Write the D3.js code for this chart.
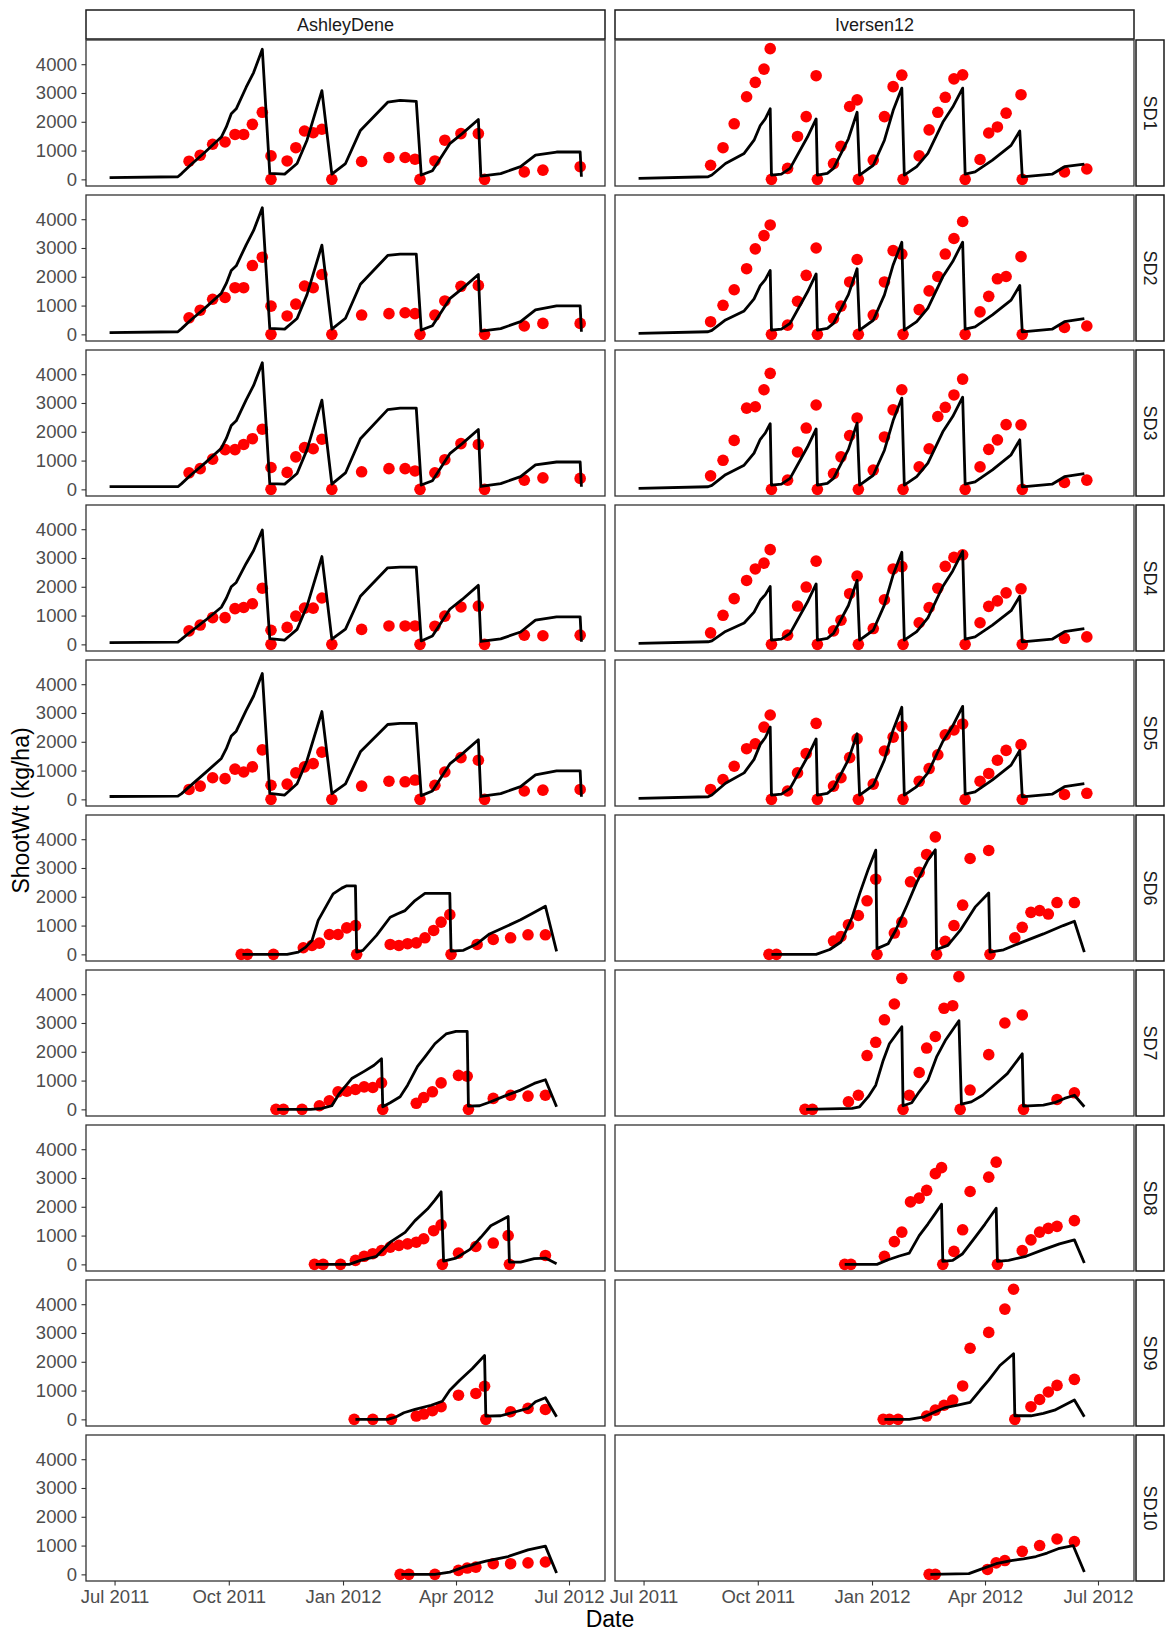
<!DOCTYPE html>
<html>
<head>
<meta charset="utf-8">
<script src="https://cdn.jsdelivr.net/npm/d3@7"></script>
<style>
  body { margin: 0; background: #fff; }
  text { font-family: "Liberation Sans", Arial, Helvetica, sans-serif; }
</style>
</head>
<body>
<svg id="chart" width="1166" height="1631"></svg>
<script>
// ---------- facets and axes ----------
const sites = ["AshleyDene", "Iversen12"];
const sowings = ["SD1", "SD2", "SD3", "SD4", "SD5", "SD6", "SD7", "SD8", "SD9", "SD10"];
const xTickDates = ["2011-07-01", "2011-10-01", "2012-01-01", "2012-04-01", "2012-07-01"];
const yTickValues = [0, 1000, 2000, 3000, 4000];

// ---------- AshleyDene, SD1-SD5 (shared dates) ----------
const adSampleDates = ["2011-08-30","2011-09-08","2011-09-18","2011-09-28","2011-10-06","2011-10-13","2011-10-20","2011-10-28","2011-11-04","2011-11-04","2011-11-17","2011-11-24","2011-12-01","2011-12-08","2011-12-15","2011-12-23","2012-01-16","2012-02-07","2012-02-20","2012-02-28","2012-03-03","2012-03-15","2012-03-23","2012-04-05","2012-04-19","2012-04-24","2012-05-26","2012-06-10","2012-07-10"];
const adObsSD1 = [630,840,1220,1300,1560,1560,1910,2330,815,0,640,1100,1680,1620,1740,0,620,760,760,700,0,640,1360,1590,1590,0,260,320,440];
const adObsSD2 = [575,840,1220,1280,1620,1620,2390,2680,980,0,640,1050,1680,1620,2080,0,670,720,750,720,0,670,1160,1670,1700,0,290,380,380];
const adObsSD3 = [575,720,1050,1380,1380,1560,1760,2090,760,0,590,1130,1450,1410,1740,0,610,720,720,640,0,575,1030,1590,1560,0,320,400,380];
const adObsSD4 = [470,670,930,930,1240,1280,1410,1950,490,0,590,980,1260,1260,1610,0,520,640,640,640,0,630,980,1300,1330,0,320,300,320];
const adObsSD5 = [345,460,750,720,1050,950,1130,1720,490,0,530,920,1130,1240,1640,0,460,630,610,670,0,490,950,1450,1360,0,290,320,345];

const adSimDates = ["2011-06-27","2011-08-21","2011-08-24","2011-08-31","2011-09-12","2011-09-25","2011-09-29","2011-10-03","2011-10-07","2011-10-15","2011-10-21","2011-10-28","2011-11-03","2011-11-15","2011-11-25","2011-12-03","2011-12-15","2011-12-23","2012-01-03","2012-01-15","2012-02-06","2012-02-16","2012-02-29","2012-03-04","2012-03-13","2012-03-27","2012-04-06","2012-04-19","2012-04-21","2012-05-07","2012-05-23","2012-06-04","2012-06-21","2012-07-10","2012-07-11"];
const adSimSD1 = [57,90,200,490,950,1470,1820,2280,2450,3200,3710,4520,210,180,550,1360,3080,180,550,1700,2680,2740,2710,150,300,1240,1590,2080,115,200,440,840,950,950,90];
const adSimSD2 = [60,90,200,480,920,1430,1770,2220,2380,3110,3610,4400,210,180,550,1380,3100,180,560,1740,2740,2790,2790,150,300,1240,1590,2080,115,200,440,850,990,990,90];
const adSimSD3 = [92,92,200,480,920,1430,1770,2220,2380,3110,3610,4400,200,180,550,1380,3100,180,570,1760,2770,2820,2820,150,300,1240,1590,2080,100,200,440,850,950,950,90];
const adSimSD4 = [60,80,180,430,830,1290,1600,2000,2150,2810,3260,3970,200,150,520,1330,3050,180,530,1670,2660,2680,2680,120,290,1220,1560,2050,100,190,430,840,955,955,90];
const adSimSD5 = [100,110,200,470,920,1420,1760,2200,2370,3090,3590,4370,210,150,540,1350,3050,200,540,1650,2600,2640,2640,130,290,1230,1580,2070,100,200,440,850,990,990,90];

// ---------- Iversen12, SD1-SD5 (shared dates) ----------
const ivSampleDates = ["2011-08-24","2011-09-03","2011-09-12","2011-09-22","2011-09-29","2011-10-06","2011-10-11","2011-10-12","2011-10-25","2011-11-02","2011-11-09","2011-11-17","2011-11-18","2011-12-01","2011-12-07","2011-12-14","2011-12-20","2011-12-21","2012-01-02","2012-01-11","2012-01-18","2012-01-25","2012-01-26","2012-02-08","2012-02-16","2012-02-23","2012-02-29","2012-03-07","2012-03-14","2012-03-16","2012-03-28","2012-04-04","2012-04-11","2012-04-18","2012-04-30","2012-05-01","2012-06-04","2012-06-22"];
const ivObsSD1 = [490,1100,1930,2870,3370,3830,4540,0,380,1490,2180,3600,0,550,1150,2530,2760,0,670,2180,3220,3620,0,815,1720,2330,2850,3490,3630,0,690,1610,1820,2300,2940,0,260,360];
const ivObsSD2 = [440,1010,1550,2280,2970,3430,3800,0,320,1150,2050,3000,0,550,980,1820,2600,0,670,1820,2910,2790,0,860,1510,2010,2790,3330,3920,0,780,1320,1930,2010,2700,0,240,290];
const ivObsSD3 = [470,1010,1700,2820,2870,3460,4030,0,320,1300,2130,2930,0,550,1130,1870,2480,0,670,1820,2760,3460,0,780,1410,2530,2850,3280,3830,0,780,1390,1720,2250,2240,0,240,320];
const ivObsSD4 = [400,1010,1590,2220,2620,2820,3290,0,320,1330,1990,2890,0,470,840,1760,2370,0,550,1550,2620,2700,0,750,1280,1950,2710,3020,3110,0,750,1320,1510,1790,1930,0,210,260];
const ivObsSD5 = [345,690,1150,1760,1930,2510,2930,0,290,920,1590,2640,0,460,750,1450,2100,0,530,1680,2160,2530,0,630,1070,1550,2240,2410,2620,0,630,900,1360,1700,1900,0,170,210];

const ivSimDates = ["2011-06-27","2011-08-22","2011-08-25","2011-09-05","2011-09-20","2011-09-28","2011-10-03","2011-10-07","2011-10-11","2011-10-12","2011-10-20","2011-10-27","2011-11-10","2011-11-17","2011-11-18","2011-11-26","2011-12-01","2011-12-13","2011-12-20","2011-12-22","2012-01-02","2012-01-11","2012-01-18","2012-01-25","2012-01-27","2012-02-06","2012-02-15","2012-02-27","2012-03-06","2012-03-14","2012-03-16","2012-03-24","2012-04-07","2012-04-22","2012-04-29","2012-05-01","2012-05-25","2012-06-04","2012-06-20"];
const ivSimSD1 = [35,90,150,550,900,1360,1870,2100,2450,150,180,380,1470,2100,150,210,380,1410,2330,150,490,1360,2390,3170,150,440,900,1980,2510,3170,180,260,670,1180,1680,90,180,440,530];
const ivSimSD2 = [35,90,140,500,815,1230,1690,1900,2220,150,180,380,1470,2100,150,210,380,1380,2280,150,490,1370,2410,3200,150,440,910,2000,2530,3200,180,260,680,1190,1700,90,180,440,550];
const ivSimSD3 = [35,90,140,510,840,1260,1740,1950,2280,150,180,380,1470,2100,150,210,380,1390,2300,150,490,1360,2390,3170,150,440,910,2000,2530,3200,180,260,680,1200,1720,90,180,440,550];
const ivSimSD4 = [35,90,120,450,740,1120,1530,1720,2010,150,180,380,1470,2100,150,210,380,1350,2220,150,490,1370,2410,3200,150,440,920,2010,2550,3230,180,260,670,1170,1670,90,180,440,550];
const ivSimSD5 = [35,90,150,560,920,1390,1910,2140,2510,150,180,380,1470,2100,150,210,380,1380,2280,150,490,1370,2410,3200,150,440,920,2010,2550,3230,180,260,680,1190,1700,90,180,440,550];

// ---------- AshleyDene, SD6-SD10 ----------
const adSimSD6 = [["2011-10-12",0],["2011-11-17",0],["2011-11-26",80],["2011-12-02",250],["2011-12-07",480],["2011-12-12",1180],["2011-12-18",1640],["2011-12-24",2100],["2011-12-31",2300],["2012-01-04",2380],["2012-01-11",2380],["2012-01-12",80],["2012-01-17",140],["2012-01-28",660],["2012-02-08",1290],["2012-02-14",1410],["2012-02-20",1520],["2012-02-28",1870],["2012-03-07",2120],["2012-03-27",2120],["2012-03-28",115],["2012-04-07",140],["2012-04-18",370],["2012-04-28",710],["2012-05-10",940],["2012-05-23",1200],["2012-06-01",1410],["2012-06-12",1670],["2012-06-21",105]];
const adObsSD6 = [["2011-10-11",0],["2011-10-16",0],["2011-11-06",0],["2011-11-30",230],["2011-12-07",310],["2011-12-13",390],["2011-12-21",690],["2011-12-28",690],["2012-01-04",920],["2012-01-11",1000],["2012-01-12",0],["2012-02-08",345],["2012-02-15",310],["2012-02-22",370],["2012-02-29",400],["2012-03-07",575],["2012-03-14",830],["2012-03-20",1120],["2012-03-27",1380],["2012-03-28",0],["2012-04-18",345],["2012-05-01",520],["2012-05-15",575],["2012-05-29",680],["2012-06-12",680]];
const adSimSD7 = [["2011-11-09",0],["2011-12-06",0],["2011-12-15",35],["2011-12-23",125],["2011-12-29",550],["2012-01-08",1070],["2012-01-18",1320],["2012-01-26",1530],["2012-02-01",1760],["2012-02-02",90],["2012-02-08",230],["2012-02-16",440],["2012-02-22",840],["2012-03-01",1490],["2012-03-07",1820],["2012-03-15",2280],["2012-03-24",2620],["2012-04-01",2710],["2012-04-10",2710],["2012-04-11",115],["2012-04-20",125],["2012-04-29",265],["2012-05-10",460],["2012-05-23",670],["2012-06-03",900],["2012-06-12",1030],["2012-06-21",90]];
const adObsSD7 = [["2011-11-08",0],["2011-11-14",0],["2011-11-29",0],["2011-12-13",125],["2011-12-21",300],["2011-12-28",610],["2012-01-04",630],["2012-01-11",690],["2012-01-18",780],["2012-01-25",760],["2012-02-01",920],["2012-02-02",0],["2012-02-29",210],["2012-03-06",410],["2012-03-13",610],["2012-03-20",920],["2012-04-03",1180],["2012-04-10",1150],["2012-04-11",0],["2012-05-01",380],["2012-05-15",490],["2012-05-29",460],["2012-06-12",490]];
const adSimSD8 = [["2011-12-10",0],["2012-01-06",0],["2012-01-15",140],["2012-01-28",280],["2012-02-08",770],["2012-02-20",1110],["2012-02-28",1520],["2012-03-09",1920],["2012-03-15",2230],["2012-03-20",2520],["2012-03-22",115],["2012-04-01",220],["2012-04-12",510],["2012-04-21",940],["2012-04-29",1340],["2012-05-07",1520],["2012-05-13",1660],["2012-05-14",80],["2012-05-23",80],["2012-06-03",200],["2012-06-12",220],["2012-06-21",25]];
const adObsSD8 = [["2011-12-09",0],["2011-12-16",0],["2011-12-30",0],["2012-01-11",140],["2012-01-18",280],["2012-01-25",370],["2012-02-01",480],["2012-02-08",600],["2012-02-15",660],["2012-02-22",710],["2012-02-29",770],["2012-03-06",890],["2012-03-14",1170],["2012-03-20",1370],["2012-03-21",0],["2012-04-03",390],["2012-04-17",620],["2012-05-01",740],["2012-05-13",1000],["2012-05-14",0],["2012-06-12",310]];
const adSimSD9 = [["2012-01-11",0],["2012-02-06",0],["2012-02-13",90],["2012-02-19",230],["2012-02-28",345],["2012-03-12",490],["2012-03-21",630],["2012-03-27",1010],["2012-04-04",1360],["2012-04-14",1760],["2012-04-24",2220],["2012-04-25",115],["2012-05-07",125],["2012-05-16",230],["2012-05-29",380],["2012-06-04",610],["2012-06-12",750],["2012-06-21",90]];
const adObsSD9 = [["2012-01-10",0],["2012-01-25",0],["2012-02-09",0],["2012-02-29",115],["2012-03-06",185],["2012-03-13",300],["2012-03-20",440],["2012-04-03",840],["2012-04-17",900],["2012-04-24",1150],["2012-04-25",0],["2012-05-15",265],["2012-05-29",380],["2012-06-12",345]];
const adSimSD10 = [["2012-02-17",0],["2012-03-15",0],["2012-03-27",80],["2012-04-09",280],["2012-04-25",460],["2012-05-13",620],["2012-05-29",850],["2012-06-12",980],["2012-06-21",45]];
const adObsSD10 = [["2012-02-16",0],["2012-02-23",0],["2012-03-15",0],["2012-04-03",140],["2012-04-10",220],["2012-04-17",250],["2012-05-01",370],["2012-05-15",370],["2012-05-29",400],["2012-06-12",430]];

// ---------- Iversen12, SD6-SD10 ----------
const ivSimSD6 = [["2011-10-12",0],["2011-11-17",0],["2011-11-28",170],["2011-12-07",430],["2011-12-16",1290],["2011-12-22",2100],["2011-12-29",2960],["2012-01-04",3620],["2012-01-05",200],["2012-01-14",370],["2012-01-20",830],["2012-01-29",1690],["2012-02-06",2500],["2012-02-15",3270],["2012-02-21",3630],["2012-02-22",170],["2012-03-02",310],["2012-03-12",830],["2012-03-24",1640],["2012-04-04",2130],["2012-04-05",80],["2012-04-16",160],["2012-04-29",390],["2012-05-18",710],["2012-06-03",1000],["2012-06-12",1150],["2012-06-20",80]];
const ivObsSD6 = [["2011-10-10",0],["2011-10-16",0],["2011-12-01",460],["2011-12-07",620],["2011-12-13",1030],["2011-12-21",1350],["2011-12-28",1860],["2012-01-04",2610],["2012-01-05",0],["2012-01-19",740],["2012-01-25",1120],["2012-02-01",2520],["2012-02-08",2850],["2012-02-14",3470],["2012-02-21",4080],["2012-02-22",0],["2012-02-29",450],["2012-03-07",1000],["2012-03-14",1710],["2012-03-20",3330],["2012-04-04",3610],["2012-04-05",0],["2012-04-25",575],["2012-05-01",940],["2012-05-08",1460],["2012-05-15",1520],["2012-05-22",1400],["2012-05-29",1800],["2012-06-12",1800]];
const ivSimSD7 = [["2011-11-09",0],["2011-12-16",35],["2011-12-22",90],["2011-12-29",440],["2012-01-04",840],["2012-01-10",1700],["2012-01-15",2280],["2012-01-25",2870],["2012-01-26",125],["2012-02-02",230],["2012-02-08",610],["2012-02-15",1010],["2012-02-22",1820],["2012-02-29",2390],["2012-03-11",3080],["2012-03-13",180],["2012-03-21",260],["2012-03-30",490],["2012-04-10",900],["2012-04-19",1240],["2012-05-01",1930],["2012-05-02",115],["2012-05-18",150],["2012-05-27",230],["2012-06-04",380],["2012-06-12",490],["2012-06-20",90]];
const ivObsSD7 = [["2011-11-08",0],["2011-11-14",0],["2011-12-13",265],["2011-12-21",490],["2011-12-28",1870],["2012-01-04",2330],["2012-01-11",3110],["2012-01-19",3660],["2012-01-25",4550],["2012-01-26",0],["2012-01-31",490],["2012-02-08",1280],["2012-02-14",2130],["2012-02-21",2530],["2012-02-28",3510],["2012-03-06",3600],["2012-03-11",4610],["2012-03-12",0],["2012-03-20",670],["2012-04-04",1900],["2012-04-17",3000],["2012-05-01",3280],["2012-05-02",0],["2012-05-29",345],["2012-06-12",575]];
const ivSimSD8 = [["2011-12-10",0],["2012-01-05",0],["2012-01-14",160],["2012-01-23",290],["2012-01-31",390],["2012-02-08",1000],["2012-02-15",1400],["2012-02-21",1770],["2012-02-26",2090],["2012-02-27",105],["2012-03-06",140],["2012-03-14",370],["2012-03-24",940],["2012-04-01",1400],["2012-04-10",1950],["2012-04-11",105],["2012-04-20",140],["2012-05-04",280],["2012-05-18",510],["2012-05-31",710],["2012-06-12",850],["2012-06-20",45]];
const ivObsSD8 = [["2011-12-10",0],["2011-12-15",0],["2012-01-11",280],["2012-01-19",790],["2012-01-25",1120],["2012-02-01",2170],["2012-02-08",2300],["2012-02-14",2570],["2012-02-21",3150],["2012-02-26",3360],["2012-02-27",0],["2012-03-07",450],["2012-03-14",1200],["2012-03-20",2530],["2012-04-04",3030],["2012-04-10",3550],["2012-04-11",0],["2012-05-01",480],["2012-05-08",850],["2012-05-15",1120],["2012-05-22",1250],["2012-05-29",1320],["2012-06-12",1520]];
const ivSimSD9 = [["2012-01-11",0],["2012-01-31",0],["2012-02-12",90],["2012-02-21",265],["2012-02-29",410],["2012-03-09",490],["2012-03-20",590],["2012-03-28",1010],["2012-04-04",1360],["2012-04-13",1870],["2012-04-24",2280],["2012-04-25",125],["2012-05-08",125],["2012-05-18",210],["2012-05-27",320],["2012-06-12",670],["2012-06-20",90]];
const ivObsSD9 = [["2012-01-10",0],["2012-01-15",0],["2012-01-22",0],["2012-02-14",115],["2012-02-21",320],["2012-02-28",490],["2012-03-06",670],["2012-03-14",1160],["2012-03-20",2470],["2012-04-04",3020],["2012-04-17",3830],["2012-04-24",4520],["2012-04-25",0],["2012-05-08",440],["2012-05-15",690],["2012-05-22",950],["2012-05-29",1180],["2012-06-12",1390]];
const ivSimSD10 = [["2012-02-17",0],["2012-03-19",25],["2012-03-30",200],["2012-04-10",370],["2012-04-22",480],["2012-05-02",540],["2012-05-12",620],["2012-05-21",740],["2012-05-30",890],["2012-06-11",1000],["2012-06-20",80]];
const ivObsSD10 = [["2012-02-16",0],["2012-02-21",0],["2012-04-03",170],["2012-04-10",400],["2012-04-17",480],["2012-05-01",800],["2012-05-15",1000],["2012-05-29",1230],["2012-06-12",1140]];

// ---------- assemble facet table ----------
const zip = (dates, vals) => dates.map((d, i) => [d, vals[i]]);
const facetData = {
  AshleyDene: {
    SD1: { sim: zip(adSimDates, adSimSD1), obs: zip(adSampleDates, adObsSD1) },
    SD2: { sim: zip(adSimDates, adSimSD2), obs: zip(adSampleDates, adObsSD2) },
    SD3: { sim: zip(adSimDates, adSimSD3), obs: zip(adSampleDates, adObsSD3) },
    SD4: { sim: zip(adSimDates, adSimSD4), obs: zip(adSampleDates, adObsSD4) },
    SD5: { sim: zip(adSimDates, adSimSD5), obs: zip(adSampleDates, adObsSD5) },
    SD6: { sim: adSimSD6, obs: adObsSD6 },
    SD7: { sim: adSimSD7, obs: adObsSD7 },
    SD8: { sim: adSimSD8, obs: adObsSD8 },
    SD9: { sim: adSimSD9, obs: adObsSD9 },
    SD10: { sim: adSimSD10, obs: adObsSD10 }
  },
  Iversen12: {
    SD1: { sim: zip(ivSimDates, ivSimSD1), obs: zip(ivSampleDates, ivObsSD1) },
    SD2: { sim: zip(ivSimDates, ivSimSD2), obs: zip(ivSampleDates, ivObsSD2) },
    SD3: { sim: zip(ivSimDates, ivSimSD3), obs: zip(ivSampleDates, ivObsSD3) },
    SD4: { sim: zip(ivSimDates, ivSimSD4), obs: zip(ivSampleDates, ivObsSD4) },
    SD5: { sim: zip(ivSimDates, ivSimSD5), obs: zip(ivSampleDates, ivObsSD5) },
    SD6: { sim: ivSimSD6, obs: ivObsSD6 },
    SD7: { sim: ivSimSD7, obs: ivObsSD7 },
    SD8: { sim: ivSimSD8, obs: ivObsSD8 },
    SD9: { sim: ivSimSD9, obs: ivObsSD9 },
    SD10: { sim: ivSimSD10, obs: ivObsSD10 }
  }
};

// ---------- layout ----------
const parse = d3.timeParse("%Y-%m-%d");
const colX = [86, 615];
const panelW = 519, panelH = 146, rowPitch = 155, top0 = 40;
const stripTopY = 10, stripTopH = 29;
const stripRightX = 1136, stripRightW = 28;
const tickFont = 18.5, stripFont = 18, titleFont = 23;

// shared scales with 5% expansion on both axes
const allRecs = [];
sites.forEach(s => sowings.forEach(sd => {
  allRecs.push(...facetData[s][sd].sim, ...facetData[s][sd].obs);
}));
const [dMin, dMax] = d3.extent(allRecs, r => parse(r[0]));
const dPad = (dMax - dMin) * 0.05;
const vMax = d3.max(allRecs, r => r[1]);
const vMin = Math.min(0, d3.min(allRecs, r => r[1]));
const vPad = (vMax - vMin) * 0.05;

const x = d3.scaleTime()
  .domain([new Date(+dMin - dPad), new Date(+dMax + dPad)])
  .range([0, panelW]);
const y = d3.scaleLinear()
  .domain([vMin - vPad, vMax + vPad])
  .range([panelH, 0]);

const svg = d3.select("#chart");
svg.append("rect").attr("width", 1166).attr("height", 1631).attr("fill", "#fff");

const line = d3.line()
  .x(d => x(parse(d[0])))
  .y(d => y(d[1]));

// column strips
sites.forEach((s, c) => {
  const g = svg.append("g").attr("transform", `translate(${colX[c]},${stripTopY})`);
  g.append("rect").attr("width", panelW).attr("height", stripTopH)
    .attr("fill", "#fff").attr("stroke", "#1a1a1a").attr("stroke-width", 1.5);
  g.append("text").attr("x", panelW / 2).attr("y", stripTopH / 2)
    .attr("text-anchor", "middle").attr("dominant-baseline", "central")
    .attr("font-size", stripFont).attr("fill", "#1a1a1a").text(s);
});

// panels
sowings.forEach((sd, r) => {
  const py = top0 + r * rowPitch;

  // row strip
  const gs = svg.append("g").attr("transform", `translate(${stripRightX},${py})`);
  gs.append("rect").attr("width", stripRightW).attr("height", panelH)
    .attr("fill", "#fff").attr("stroke", "#1a1a1a").attr("stroke-width", 1.5);
  gs.append("text")
    .attr("transform", `translate(${stripRightW / 2},${panelH / 2}) rotate(90)`)
    .attr("text-anchor", "middle").attr("dominant-baseline", "central")
    .attr("font-size", stripFont).attr("fill", "#1a1a1a").text(sd);

  sites.forEach((s, c) => {
    const d = facetData[s][sd];
    const g = svg.append("g").attr("transform", `translate(${colX[c]},${py})`);
    const clipId = `clip-${c}-${r}`;
    g.append("clipPath").attr("id", clipId)
      .append("rect").attr("width", panelW).attr("height", panelH);
    g.append("rect").attr("width", panelW).attr("height", panelH).attr("fill", "#fff");

    const plot = g.append("g").attr("clip-path", `url(#${clipId})`);
    plot.selectAll("circle").data(d.obs).join("circle")
      .attr("cx", p => x(parse(p[0])))
      .attr("cy", p => y(p[1]))
      .attr("r", 5.8)
      .attr("fill", "#ff0000");
    plot.append("path").datum(d.sim)
      .attr("d", line)
      .attr("fill", "none")
      .attr("stroke", "#000")
      .attr("stroke-width", 2.8)
      .attr("stroke-linejoin", "round")
      .attr("stroke-linecap", "butt");

    g.append("rect").attr("width", panelW).attr("height", panelH)
      .attr("fill", "none").attr("stroke", "#333").attr("stroke-width", 1.3);

    // y axis on left column
    if (c === 0) {
      const ay = g.append("g").call(
        d3.axisLeft(y).tickValues(yTickValues).tickFormat(d3.format("d"))
          .tickSize(4.5).tickPadding(4.5)
      );
      ay.select(".domain").remove();
      ay.selectAll(".tick line").attr("stroke", "#333").attr("stroke-width", 1.1);
      ay.selectAll(".tick text").attr("font-size", tickFont).attr("fill", "#4d4d4d")
        .attr("font-family", null);
    }
    // x axis on bottom row
    if (r === sowings.length - 1) {
      const ax = g.append("g").attr("transform", `translate(0,${panelH})`).call(
        d3.axisBottom(x).tickValues(xTickDates.map(parse))
          .tickFormat(d3.timeFormat("%b %Y")).tickSize(4.5).tickPadding(4)
      );
      ax.select(".domain").remove();
      ax.selectAll(".tick line").attr("stroke", "#333").attr("stroke-width", 1.1);
      ax.selectAll(".tick text").attr("font-size", tickFont).attr("fill", "#4d4d4d")
        .attr("font-family", null);
    }
  });
});

// axis titles
const plotsLeft = colX[0], plotsRight = colX[1] + panelW;
const plotsTop = top0, plotsBottom = top0 + (sowings.length - 1) * rowPitch + panelH;
svg.append("text")
  .attr("x", (plotsLeft + plotsRight) / 2).attr("y", 1627)
  .attr("text-anchor", "middle").attr("font-size", titleFont).attr("fill", "#000")
  .text("Date");
svg.append("text")
  .attr("transform", `translate(29,${(plotsTop + plotsBottom) / 2}) rotate(-90)`)
  .attr("text-anchor", "middle").attr("font-size", titleFont).attr("fill", "#000")
  .text("ShootWt (kg/ha)");
</script>
</body>
</html>
